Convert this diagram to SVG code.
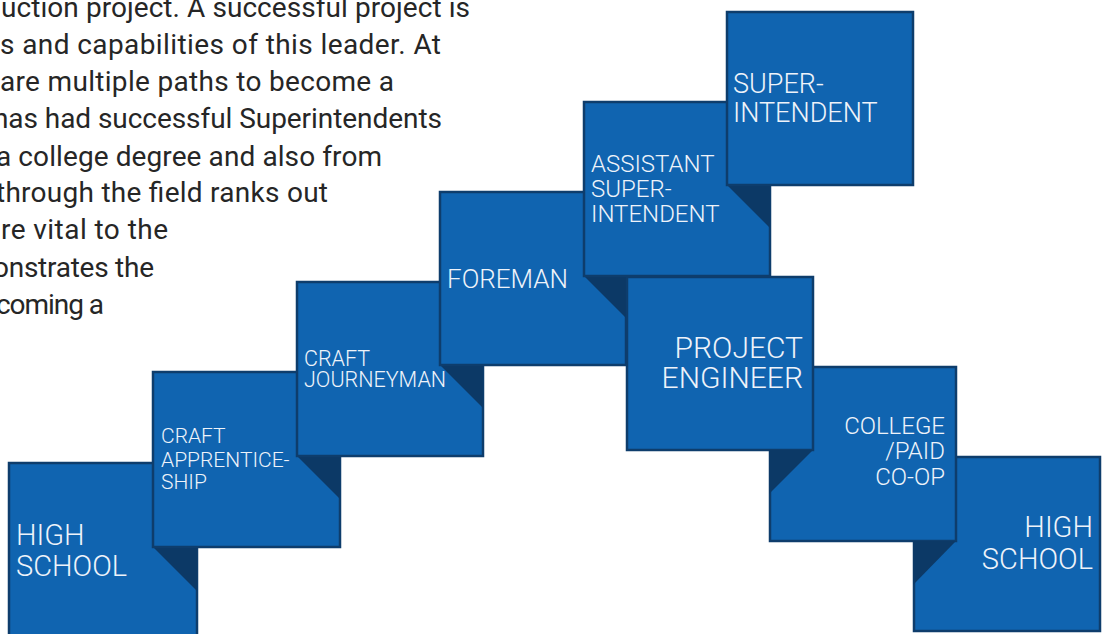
<svg xmlns="http://www.w3.org/2000/svg" width="1102" height="634" viewBox="0 0 1102 634">
<style>
.box{fill:#1064b0;stroke:#0e3d6c;stroke-width:2.5}
.tri{fill:#0c3966}
.lbl{font-family:Roboto,"Liberation Sans",sans-serif;fill:#eef3fa;font-weight:300}
.body{font-family:Roboto,"Liberation Sans",sans-serif;fill:#262626;font-size:28px}
.r{text-anchor:end}
</style>
<rect width="1102" height="634" fill="#ffffff"/>
<g id="intro-text" class="body">
<text x="1" y="17" textLength="469" lengthAdjust="spacing">uction project. A successful project is</text>
<text x="0" y="54" textLength="441" lengthAdjust="spacing">s and capabilities of this leader. At</text>
<text x="0" y="91" textLength="394" lengthAdjust="spacing">are multiple paths to become a</text>
<text x="-7" y="128" textLength="449" lengthAdjust="spacing">has had successful Superintendents</text>
<text x="-4" y="166" textLength="386" lengthAdjust="spacing">a college degree and also from</text>
<text x="-4" y="202" textLength="332" lengthAdjust="spacing">through the field ranks out</text>
<text x="1" y="239" textLength="167" lengthAdjust="spacing">re vital to the</text>
<text x="-7" y="277" textLength="161" lengthAdjust="spacing">onstrates the</text>
<text x="-4" y="314" textLength="108" lengthAdjust="spacing">coming a</text>
</g>
<g id="connectors"/>
<g id="high-school-left">
<rect class="box" x="9" y="463" width="188" height="180"/>
<polygon class="tri" points="153,547 197,547 197,591"/>
<text class="lbl" font-size="29" x="16" y="545">HIGH</text>
<text class="lbl" font-size="29" x="16" y="576">SCHOOL</text>
</g>
<g id="craft-apprenticeship">
<rect class="box" x="153" y="372" width="187" height="175"/>
<polygon class="tri" points="297,456 340,456 340,499"/>
<text class="lbl" font-size="21" x="161" y="443">CRAFT</text>
<text class="lbl" font-size="21" x="161" y="467">APPRENTICE-</text>
<text class="lbl" font-size="21" x="161" y="489">SHIP</text>
</g>
<g id="craft-journeyman">
<rect class="box" x="297" y="282" width="186" height="174"/>
<polygon class="tri" points="440,365 483,365 483,408"/>
<text class="lbl" font-size="21.5" x="304" y="366">CRAFT</text>
<text class="lbl" font-size="21.5" x="304" y="387">JOURNEYMAN</text>
</g>
<g id="foreman">
<rect class="box" x="440" y="192" width="186" height="173"/>
<polygon class="tri" points="584,276 626,276 626,318"/>
<text class="lbl" font-size="26" x="447" y="288">FOREMAN</text>
</g>
<g id="high-school-right">
<rect class="box" x="914" y="457" width="186" height="174"/>
<text class="lbl r" font-size="29" x="1093" y="537">HIGH</text>
<text class="lbl r" font-size="29" x="1093" y="569">SCHOOL</text>
</g>
<g id="college-paid-coop">
<rect class="box" x="770" y="367" width="186" height="174"/>
<polygon class="tri" points="913,541 956,541 913,585"/>
<text class="lbl r" font-size="24" x="945" y="434">COLLEGE</text>
<text class="lbl r" font-size="24" x="945" y="459">/PAID</text>
<text class="lbl r" font-size="24" x="945" y="485">CO-OP</text>
</g>
<g id="project-engineer">
<rect class="box" x="627" y="277" width="186" height="173"/>
<polygon class="tri" points="769,450 813,450 769,494"/>
<text class="lbl r" font-size="30" x="803" y="358">PROJECT</text>
<text class="lbl r" font-size="30" x="803" y="388">ENGINEER</text>
</g>
<g id="assistant-superintendent">
<rect class="box" x="584" y="102" width="186" height="174"/>
<polygon class="tri" points="727,185 770,185 770,228"/>
<text class="lbl" font-size="24" x="591" y="172">ASSISTANT</text>
<text class="lbl" font-size="24" x="591" y="197">SUPER-</text>
<text class="lbl" font-size="24" x="591" y="222">INTENDENT</text>
</g>
<g id="superintendent">
<rect class="box" x="727" y="12" width="186" height="173"/>
<text class="lbl" font-size="27" x="733" y="93">SUPER-</text>
<text class="lbl" font-size="27" x="733" y="122">INTENDENT</text>
</g>
</svg>
